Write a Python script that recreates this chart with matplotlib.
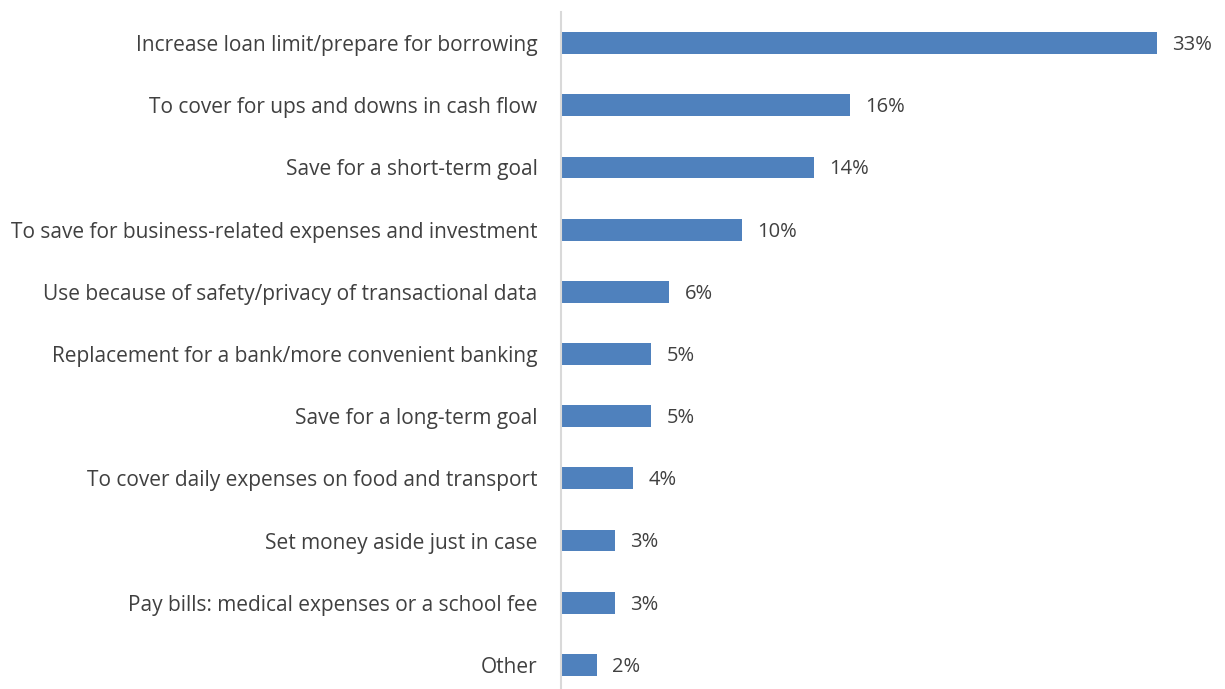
import matplotlib
matplotlib.use("Agg")
import matplotlib.pyplot as plt

plt.rcParams['font.family'] = ['Open Sans', 'DejaVu Sans']

categories = [
    "Increase loan limit/prepare for borrowing",
    "To cover for ups and downs in cash flow",
    "Save for a short-term goal",
    "To save for business-related expenses and investment",
    "Use because of safety/privacy of transactional data",
    "Replacement for a bank/more convenient banking",
    "Save for a long-term goal",
    "To cover daily expenses on food and transport",
    "Set money aside just in case",
    "Pay bills: medical expenses or a school fee",
    "Other",
]
shares = [33, 16, 14, 10, 6, 5, 5, 4, 3, 3, 2]

bar_color = "#4F81BD"
text_color = "#404040"

fig = plt.figure(figsize=(12.25, 6.89), dpi=100)
ax = fig.add_axes([561 / 1225, -7 / 689, 664 / 1225, 684 / 689])

pos = range(len(categories))
ax.barh(pos, shares, height=0.35, color=bar_color)
ax.set_ylim(len(categories) - 0.5, -0.5)
ax.set_xlim(0, 36.77)

for y, v in zip(pos, shares):
    ax.text(v + 0.85, y + 0.03, f"{v}%", va="center", ha="left",
            fontsize=14.5, color=text_color)

ax.set_yticks(list(pos))
ax.set_yticklabels(categories, fontsize=15, color=text_color)
ax.tick_params(axis="y", length=0, pad=17)
ax.set_xticks([])

for side in ("top", "right", "bottom"):
    ax.spines[side].set_visible(False)
ax.spines["left"].set_color("#d9d9d9")
ax.spines["left"].set_linewidth(1.5)

fig.savefig("out.png", dpi=100)
